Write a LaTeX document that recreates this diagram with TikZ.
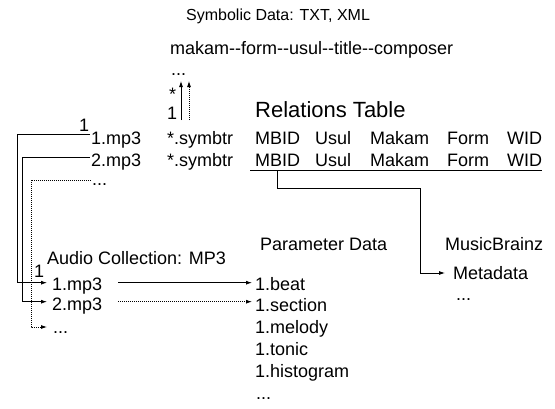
\documentclass[tikz,border=0pt]{standalone}
\usepackage{fontspec}
\setmainfont{Liberation Sans}
\usetikzlibrary{arrows.meta}
\begin{document}
\begin{tikzpicture}[x=1pt,y=-1pt,
  txt/.style={anchor=base west,inner sep=0pt,font=\fontsize{18}{20}\selectfont},
  small/.style={anchor=base west,inner sep=0pt,font=\fontsize{16}{18}\selectfont},
  big/.style={anchor=base west,inner sep=0pt,font=\fontsize{22}{24}\selectfont},
  ln/.style={line width=0.8pt},
  arr/.style={ln,-{Latex[length=6pt,width=4pt]}},
  dotln/.style={dash pattern=on 1pt off 1pt},
]
\useasboundingbox (0,0) rectangle (555,408);

% symbolic data
\node[small] (symtitle) at (186,20) {Symbolic Data: TXT, XML};
\node[txt] (makam) at (170,54) {makam-{}-form-{}-usul-{}-title-{}-composer};
\node[txt] (updots) at (171,75) {...};
\node[txt] (star) at (169,100) {*};
\node[txt] (one) at (167,119) {1};

% relations table
\node[big] (reltitle) at (255,117) {Relations Table};
\node[txt] (r1mp3) at (91,144) {1.mp3};
\node[txt] (sym1) at (167,144) {*.symbtr};
\node[txt] (mbid1) at (255,144) {MBID};
\node[txt] (usul1) at (315,144) {Usul};
\node[txt] (makam1) at (370,144) {Makam};
\node[txt] (form1) at (447,144) {Form};
\node[txt] (wid1) at (507,144) {WID};
\node[txt] (r2mp3) at (91,166) {2.mp3};
\node[txt] (sym2) at (167,166) {*.symbtr};
\node[txt] (mbid2) at (255,166) {MBID};
\node[txt] (usul2) at (315,166) {Usul};
\node[txt] (makam2) at (370,166) {Makam};
\node[txt] (form2) at (447,166) {Form};
\node[txt] (wid2) at (507,166) {WID};
\node[txt] (rdots) at (92,185) {...};
\node[txt] (lone) at (79,131) {1};

% audio collection
\node[txt] (audtitle) at (47,264) {Audio Collection: MP3};
\node[txt] (aone) at (34,277) {1};
\node[txt] (a1mp3) at (52,290) {1.mp3};
\node[txt] (a2mp3) at (52,310) {2.mp3};
\node[txt] (adots) at (53,333) {...};

% parameter data
\node[txt] (partitle) at (260,250) {Parameter Data};
\node[txt] (pbeat) at (255,290) {1.beat};
\node[txt] (psection) at (255,311) {1.section};
\node[txt] (pmelody) at (255,333) {1.melody};
\node[txt] (ptonic) at (255,355) {1.tonic};
\node[txt] (phist) at (255,377) {1.histogram};
\node[txt] (pdots) at (256,399) {...};

% musicbrainz
\node[txt] (mbtitle) at (445,250) {MusicBrainz};
\node[txt] (meta) at (453,279) {Metadata};
\node[txt] (mdots) at (456,300) {...};

% underline of the table
\draw[ln] ([xshift=-5pt,yshift=-4.7pt]mbid2.base west) -- ([yshift=-4.7pt]wid2.base east);

% up arrows
\draw[arr] ([xshift=14pt,yshift=24pt]sym1.base west) -- ([xshift=10pt,yshift=-6pt]updots.base west);
\draw[arr,dotln] ([xshift=22pt,yshift=24pt]sym1.base west) -- ([xshift=18pt,yshift=-6pt]updots.base west);

% left connectors
\draw[arr] ([xshift=-1pt,yshift=10pt]r1mp3.base west) -- ++(-72.7,0) |- ([xshift=-5pt,yshift=7.3pt]a1mp3.base west);
\draw[arr] ([xshift=-1pt,yshift=8.5pt]r2mp3.base west) -- ++(-67.3,0) |- ([xshift=-5pt,yshift=8.3pt]a2mp3.base west);
\draw[arr,dotln] ([xshift=-1pt,yshift=5pt]rdots.base west) -- ++(-60,0) |- ([xshift=-6pt,yshift=6pt]adots.base west);

% audio to parameter
\draw[arr] ([xshift=16pt,yshift=7.3pt]a1mp3.base east) -- ([xshift=-3pt,yshift=7.3pt]pbeat.base west);
\draw[arr,dotln] ([xshift=16pt,yshift=8.3pt]a2mp3.base east) -- ([xshift=-3pt,yshift=9.3pt]psection.base west);

% MBID to metadata
\coordinate (bend) at (420,188);
\draw[arr] ([yshift=-4.7pt]mbid2.base) |- (bend) |- ([xshift=-8pt,yshift=6pt]meta.base west);
\end{tikzpicture}
\end{document}
